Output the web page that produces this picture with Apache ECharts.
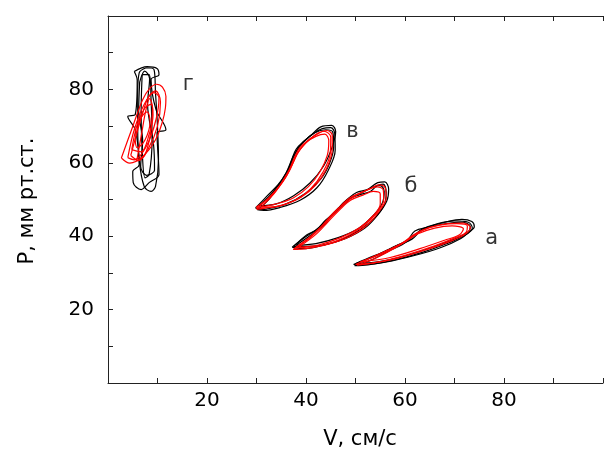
<!DOCTYPE html>
<html>
<head>
<meta charset="utf-8">
<title>P(V) loops</title>
<script src="https://cdn.jsdelivr.net/npm/echarts@6/dist/echarts.min.js"></script>
<style>
  html, body { margin: 0; padding: 0; background: #fff; }
  #chart { width: 606px; height: 453px; }
</style>
</head>
<body>
<div id="chart"></div>
<script>
// axis ticks
var xTicks = [20, 40, 60, 80];
var yTicks = [20, 40, 60, 80];

// loop labels (а, б, в, г) and where they sit
var loopNames = ['а', 'б', 'в', 'г'];
var loopNameX = [77.5, 61.2, 49.4, 16.2];
var loopNameY = [39.3, 53.4, 68.4, 81.3];

// loop а
var aBlack1 = [[49.6,32.3],[52.5,34.0],[55.5,35.6],[58.5,37.5],[61.4,39.2],[63.0,41.2],[65.0,42.6],[68.0,43.8],[71.5,44.6],[73.5,44.0],[74.0,42.6],[73.0,41.2],[71.3,39.4],[67.4,37.0],[62.1,34.8],[56.0,32.9],[52.0,32.3],[49.6,32.3]];
var aBlack2 = [[50.2,32.6],[54.0,34.6],[57.5,37.0],[60.5,39.0],[62.0,41.4],[64.5,42.4],[68.0,43.4],[71.5,43.8],[73.2,42.6],[72.6,41.0],[70.0,39.2],[66.0,37.2],[60.0,34.6],[54.5,33.0],[50.2,32.6]];
var aBlack3 = [[49.8,32.0],[53.0,33.4],[56.5,35.8],[59.8,38.0],[61.8,40.2],[63.6,42.0],[66.5,43.4],[70.0,44.2],[72.8,43.8],[73.6,42.2],[72.0,40.2],[68.5,38.0],[63.5,35.6],[57.5,33.4],[52.5,32.2],[49.8,32.0]];
var aRed1 = [[50.0,32.3],[53.5,34.4],[56.5,36.2],[59.5,38.2],[62.0,40.6],[64.8,42.3],[68.5,43.4],[71.8,43.6],[73.2,42.4],[72.2,40.6],[69.5,38.8],[64.5,36.4],[58.0,33.8],[53.0,32.6],[50.0,32.3]];
var aRed2 = [[51.0,33.0],[55.5,35.3],[59.5,38.0],[62.5,40.6],[66.0,42.2],[69.5,42.8],[71.8,42.0],[71.0,40.4],[68.0,38.9],[63.0,36.6],[57.0,34.2],[51.0,33.0]];
var aRed3 = [[50.3,32.1],[54.0,34.0],[58.0,36.8],[61.0,39.4],[63.5,41.6],[67.0,43.0],[70.5,43.4],[72.6,42.8],[72.4,41.2],[70.2,39.6],[66.0,37.4],[60.0,34.8],[54.5,32.9],[50.3,32.1]];

// loop б
var bBlack1 = [[37.2,37.0],[40.0,39.9],[42.6,42.3],[44.6,45.0],[46.6,47.8],[48.3,50.0],[50.2,51.9],[52.5,52.8],[54.5,54.6],[55.9,54.8],[56.7,52.8],[56.3,49.5],[54.5,45.8],[51.9,42.2],[47.9,39.3],[43.3,37.5],[39.3,36.6],[37.2,37.0]];
var bBlack2 = [[38.0,37.5],[41.0,40.3],[43.5,43.0],[45.5,46.0],[47.5,48.5],[49.5,50.8],[51.5,52.0],[53.5,53.4],[55.0,53.8],[55.8,52.2],[55.4,49.0],[53.5,45.5],[50.5,42.0],[46.5,39.6],[42.0,38.0],[38.0,37.5]];
var bBlack3 = [[37.5,37.2],[40.2,40.4],[42.0,41.6],[44.0,44.4],[46.2,47.0],[48.0,49.6],[50.6,51.2],[53.0,52.2],[54.4,53.8],[55.6,54.2],[56.2,52.0],[55.8,48.6],[54.0,45.2],[51.0,41.8],[47.0,39.0],[42.5,37.4],[37.5,37.2]];
var bRed1 = [[37.4,36.4],[40.5,39.5],[43.0,42.5],[45.0,45.6],[47.0,48.2],[48.8,50.4],[51.0,51.8],[53.0,53.0],[54.8,54.0],[56.0,53.2],[56.2,50.5],[54.8,46.8],[52.5,43.2],[49.0,40.0],[44.5,37.8],[40.0,36.6],[37.4,36.4]];
var bRed2 = [[38.5,37.0],[42.0,40.5],[44.5,44.0],[46.8,47.2],[49.0,49.8],[51.5,51.2],[53.6,52.2],[55.0,51.5],[55.0,48.8],[53.5,45.5],[50.8,42.3],[47.0,39.6],[42.5,37.6],[38.5,37.0]];
var bRed3 = [[37.8,36.8],[41.0,39.8],[43.6,43.2],[45.8,46.4],[47.8,49.0],[50.0,51.0],[52.4,52.6],[54.4,53.4],[55.6,52.6],[55.7,50.0],[54.2,46.2],[51.6,42.8],[48.0,39.8],[43.5,37.6],[37.8,36.8]];

// loop в
var vBlack1 = [[29.8,47.7],[32.1,50.9],[34.4,54.1],[36.0,57.3],[37.0,60.5],[38.0,63.7],[39.7,66.0],[41.3,67.8],[43.3,69.3],[45.0,69.6],[45.8,68.0],[45.9,63.5],[44.5,58.0],[42.2,53.2],[38.8,49.8],[34.7,47.8],[31.4,47.0],[29.8,47.7]];
var vBlack2 = [[30.5,48.3],[33.0,51.5],[35.0,55.0],[36.5,58.5],[37.5,62.0],[39.0,65.0],[41.0,67.5],[43.0,69.8],[45.2,70.2],[46.0,68.5],[45.2,64.0],[43.5,59.0],[40.8,54.5],[37.5,51.0],[34.0,48.8],[30.5,48.3]];
var vBlack3 = [[30.2,47.2],[32.6,50.2],[34.0,53.2],[35.4,55.2],[36.6,58.4],[37.8,62.4],[39.4,65.6],[41.8,68.2],[44.0,69.0],[45.4,68.4],[45.6,64.6],[44.8,60.0],[43.0,55.6],[40.0,51.8],[36.0,48.8],[32.0,47.4],[30.2,47.2]];
var vRed1 = [[30.0,47.4],[32.5,50.5],[34.8,54.0],[36.3,57.0],[37.5,61.0],[38.8,64.2],[40.5,66.2],[42.5,68.0],[44.2,68.8],[45.3,67.5],[45.3,63.8],[44.2,58.5],[42.0,54.0],[39.0,50.6],[35.0,48.4],[31.5,47.6],[30.0,47.4]];
var vRed2 = [[31.0,48.0],[33.5,51.5],[35.5,55.5],[37.2,59.5],[38.5,63.0],[40.0,65.5],[42.0,67.2],[43.8,67.8],[44.6,66.0],[44.3,62.0],[42.8,57.5],[40.5,53.5],[37.5,50.5],[34.0,48.8],[31.0,48.0]];
var vRed3 = [[29.9,47.9],[33.0,51.0],[35.2,54.6],[36.8,58.2],[38.2,62.4],[39.8,65.2],[41.8,67.6],[43.6,68.6],[45.0,67.0],[44.9,62.6],[43.4,57.4],[41.0,53.0],[37.8,49.8],[33.5,48.0],[29.9,47.9]];

// loop г
var gBlack1 = [[7.7,85.9],[9.3,85.4],[9.6,79.0],[10.0,69.9],[10.2,60.8],[9.6,53.6],[8.7,52.2],[7.3,53.6],[6.3,60.8],[6.0,69.9],[6.0,79.0],[6.3,84.5],[7.7,85.9]];
var gBlack2 = [[5.3,84.9],[7.9,86.2],[9.9,85.7],[10.3,84.0],[8.7,82.7],[9.7,74.5],[11.7,69.0],[9.9,68.2],[10.3,56.8],[8.3,54.6],[6.7,52.7],[5.1,54.6],[5.0,57.6],[6.3,59.5],[5.5,69.0],[4.0,72.6],[5.5,73.1],[5.9,82.5],[5.3,84.9]];
var gBlack3 = [[6.9,84.0],[8.3,84.0],[8.7,77.2],[8.9,66.3],[8.3,56.8],[7.5,55.9],[6.9,63.6],[6.7,74.5],[6.9,84.0]];
var gBlack4 = [[6.4,82.0],[7.4,85.0],[8.4,83.0],[8.0,76.0],[9.2,65.0],[9.4,58.0],[7.8,56.6],[6.6,59.0],[7.0,66.0],[6.2,74.0],[6.4,82.0]];
var gRed1 = [[2.7,61.3],[5.0,69.9],[7.0,77.2],[8.4,80.2],[9.8,81.4],[11.0,80.6],[11.7,78.1],[11.6,75.0],[11.0,71.2],[9.6,66.3],[7.0,61.7],[4.4,59.9],[2.7,61.3]];
var gRed2 = [[4.0,61.4],[5.3,69.0],[7.3,75.9],[9.3,79.1],[10.3,77.7],[9.7,71.8],[7.9,64.9],[5.3,60.8],[4.0,61.4]];
var gRed3 = [[4.8,63.6],[5.9,70.4],[7.5,75.0],[8.7,75.9],[9.1,73.1],[8.3,67.7],[6.7,63.0],[4.8,63.6]];
var gRed4 = [[5.5,66.3],[6.5,71.8],[7.9,73.9],[8.5,71.2],[7.5,66.3],[5.9,64.1],[5.5,66.3]];
var gRed5 = [[5.8,60.5],[6.8,68.0],[7.6,74.0],[8.4,77.5],[9.0,75.0],[8.6,68.0],[7.4,62.0],[5.8,60.5]];
var gRed6 = [[4.6,62.0],[5.6,67.0],[6.8,72.6],[8.2,78.0],[9.6,79.6],[10.6,76.6],[10.0,70.0],[8.2,64.0],[6.2,60.6],[4.6,62.0]];

var blackLoops = [aBlack1, aBlack2, aBlack3, bBlack1, bBlack2, bBlack3, vBlack1, vBlack2, vBlack3, gBlack1, gBlack2, gBlack3, gBlack4];
var redLoops = [aRed1, aRed2, aRed3, bRed1, bRed2, bRed3, vRed1, vRed2, vRed3, gRed1, gRed2, gRed3, gRed4, gRed5, gRed6];

var FONT = 'DejaVu Sans';
var chart = echarts.init(document.getElementById('chart'));

function loopSeries(pts, color) {
    return {
        type: 'line',
        data: pts,
        smooth: 0.35,
        showSymbol: false,
        symbol: 'none',
        silent: true,
        lineStyle: { color: color, width: 1.2 }
    };
}

var series = [];
blackLoops.forEach(function (l) { series.push(loopSeries(l, '#000')); });
redLoops.forEach(function (l) { series.push(loopSeries(l, '#ff0000')); });

series.push({
    type: 'scatter',
    symbolSize: 1,
    itemStyle: { color: 'rgba(0,0,0,0)' },
    silent: true,
    data: loopNames.map(function (n, i) { return { name: n, value: [loopNameX[i], loopNameY[i]] }; }),
    label: {
        show: true,
        position: 'inside',
        formatter: '{b}',
        color: '#000',
        textBorderWidth: 0,
        fontFamily: FONT,
        fontSize: 21
    }
});

var axisCommon = {
    type: 'value',
    min: 0,
    max: 100,
    interval: 10,
    splitLine: { show: false },
    axisLine: { show: true, lineStyle: { color: '#222', width: 1 } },
    axisTick: { show: true, inside: true, length: 5, lineStyle: { color: '#222' } }
};

var option = {
    animation: false,
    backgroundColor: '#fff',
    grid: { left: 108, top: 16, right: -7, bottom: 70 },
    xAxis: [
        Object.assign({}, axisCommon, {
            position: 'bottom',
            axisLabel: {
                margin: 8,
                color: '#000',
                fontFamily: FONT,
                fontSize: 20,
                formatter: function (v) { return xTicks.indexOf(v) >= 0 ? String(v) : ''; }
            }
        }),
        Object.assign({}, axisCommon, {
            position: 'top',
            axisLabel: { show: false }
        })
    ],
    yAxis: [
        Object.assign({}, axisCommon, {
            position: 'left',
            axisLabel: {
                margin: 14,
                color: '#000',
                fontFamily: FONT,
                fontSize: 20,
                formatter: function (v) { return yTicks.indexOf(v) >= 0 ? String(v) : ''; }
            }
        })
    ],
    graphic: [
        {
            type: 'text',
            x: 360, y: 440,
            style: { text: 'V, см/с', fontFamily: FONT, fontSize: 21, fill: '#000', align: 'center', verticalAlign: 'middle' }
        },
        {
            type: 'text',
            x: 28, y: 201,
            rotation: Math.PI / 2,
            style: { text: 'P, мм рт.ст.', fontFamily: FONT, fontSize: 21, fill: '#000', align: 'center', verticalAlign: 'middle' }
        }
    ],
    series: series
};

chart.setOption(option);
</script>
</body>
</html>
